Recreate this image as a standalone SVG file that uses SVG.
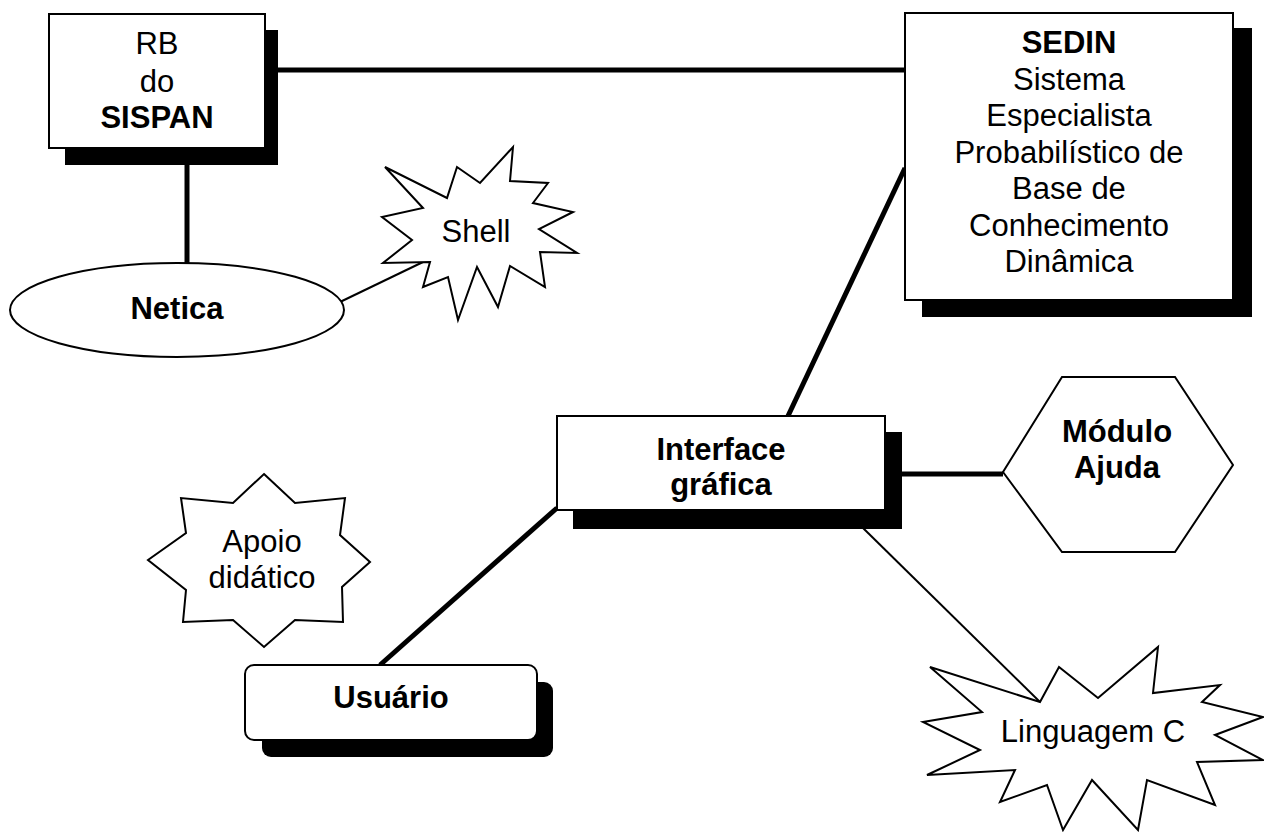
<svg xmlns="http://www.w3.org/2000/svg" width="1264" height="832" viewBox="0 0 1264 832">
<style>
  .box { fill: #fff; stroke: #000; stroke-width: 2; }
  .shadow { fill: #000; }
  .shape { fill: #fff; stroke: #000; stroke-width: 2; stroke-linejoin: miter; }
  .t { font-family: "Liberation Sans", Arial, sans-serif; font-size: 31px; text-anchor: middle; fill: #000; }
  .b { font-weight: bold; }
  .thick { stroke: #000; stroke-width: 5; fill: none; }
  .thin { stroke: #000; stroke-width: 2; fill: none; }
</style>
<rect width="1264" height="832" fill="#fff"/>
<g id="connectors">
  <line class="thick" x1="278" y1="70" x2="905" y2="70"/>
  <line class="thick" x1="187" y1="165" x2="187" y2="264"/>
  <line class="thin" x1="340" y1="302" x2="423" y2="262"/>
  <line class="thick" x1="905" y1="168" x2="788" y2="416"/>
  <line class="thick" x1="902" y1="474" x2="1003" y2="474"/>
  <line class="thin" x1="863" y1="528" x2="1040" y2="702"/>
  <line class="thick" x1="380" y1="665" x2="557" y2="508"/>
</g>
<g id="rb-sispan">
  <rect class="shadow" x="65" y="30" width="213" height="135"/>
  <rect class="box" x="49" y="14" width="216" height="134"/>
  <text class="t" x="157" y="54">RB</text>
  <text class="t" x="157" y="92">do</text>
  <text class="t b" x="157" y="128">SISPAN</text>
</g>
<g id="sedin">
  <rect class="shadow" x="922" y="28" width="330" height="289"/>
  <rect class="box" x="905" y="13" width="328" height="287"/>
  <text class="t b" x="1069" y="53">SEDIN</text>
  <text class="t" x="1069" y="90">Sistema</text>
  <text class="t" x="1069" y="126">Especialista</text>
  <text class="t" x="1069" y="163">Probabilístico de</text>
  <text class="t" x="1069" y="199">Base de</text>
  <text class="t" x="1069" y="236">Conhecimento</text>
  <text class="t" x="1069" y="272">Dinâmica</text>
</g>
<g id="netica">
  <ellipse class="shape" cx="177" cy="310" rx="167" ry="47"/>
  <text class="t b" x="177" y="319">Netica</text>
</g>
<g id="shell">
  <polygon class="shape" points="513,147 510,181 548,183 533,203 573,212 539,229 577,253 540,252 545,287 510,266 498,307 477,267 458,320 448,277 423,287 430,262 383,263 412,240 382,217 423,208 385,167 447,198 457,167 480,183"/>
  <text class="t" x="476" y="242">Shell</text>
</g>
<g id="interface">
  <rect class="shadow" x="573" y="432" width="329" height="97"/>
  <rect class="box" x="557" y="416" width="328" height="94"/>
  <text class="t b" x="721" y="460">Interface</text>
  <text class="t b" x="721" y="495">gráfica</text>
</g>
<g id="modulo-ajuda">
  <polygon class="shape" points="1003,472 1062,377 1175,377 1233,465 1175,552 1062,552"/>
  <text class="t b" x="1117" y="442">Módulo</text>
  <text class="t b" x="1117" y="478">Ajuda</text>
</g>
<g id="apoio-didatico">
  <polygon class="shape" points="264,474 295,503 345,498 340,535 370,562 342,587 343,622 295,620 264,647 233,620 183,622 186,590 148,560 186,533 181,498 233,503"/>
  <text class="t" x="262" y="552">Apoio</text>
  <text class="t" x="262" y="588">didático</text>
</g>
<g id="usuario">
  <rect class="shadow" x="262" y="682" width="291" height="75" rx="9"/>
  <rect class="box" x="245" y="665" width="292" height="75" rx="9"/>
  <text class="t b" x="391" y="708">Usuário</text>
</g>
<g id="linguagem-c">
  <polygon class="shape" points="930,667 1040,702 1059,667 1098,698 1158,647 1153,693 1220,685 1202,702 1263,717 1215,735 1263,760 1197,762 1215,805 1147,780 1138,830 1092,780 1063,830 1047,785 1000,802 1015,770 927,775 980,750 923,722 982,712"/>
  <text class="t" x="1093" y="742">Linguagem C</text>
</g>
</svg>
